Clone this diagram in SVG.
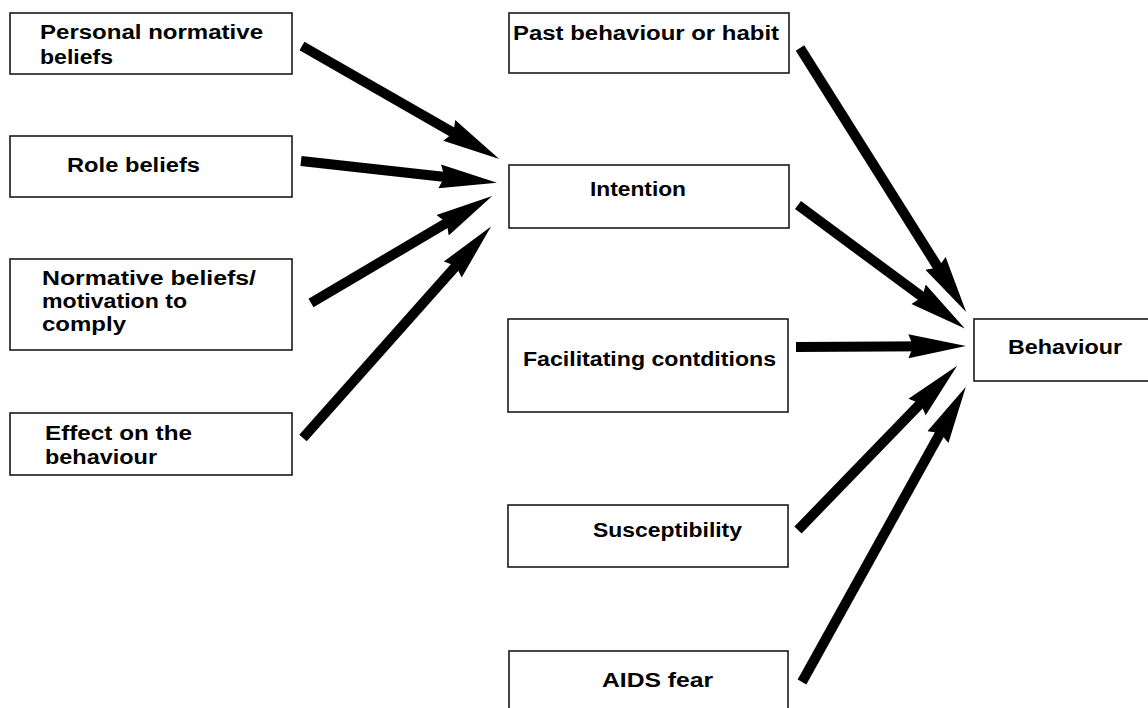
<svg xmlns="http://www.w3.org/2000/svg" width="1148" height="708" viewBox="0 0 1148 708">
<style>
.box{fill:#fff;stroke:#1a1a1a;stroke-width:1.6}
.t{font-family:"Liberation Sans",Arial,sans-serif;font-weight:bold;font-size:20px;fill:#000}
.arr{stroke:#000;stroke-width:10;fill:none;marker-end:url(#head)}
</style>
<defs>
<marker id="head" markerUnits="userSpaceOnUse" markerWidth="60" markerHeight="30" viewBox="0 -12 50 24" refX="18" refY="0" orient="auto">
<path d="M0,-10 L48,0 L0,10 L4,0 z" fill="#000"/>
</marker>
</defs>
<rect width="1148" height="708" fill="#fff"/>
<g id="connectors">
<path class="arr" d="M302,46 L468,141.1"/>
<path class="arr" d="M301,161 L461.2,178.7"/>
<path class="arr" d="M311,303 L461.2,214.3"/>
<path class="arr" d="M303,438 L467.1,253.4"/>
<path class="arr" d="M800,48 L947,281.6"/>
<path class="arr" d="M798,205 L935.9,307.1"/>
<path class="arr" d="M796,347 L930,346.2"/>
<path class="arr" d="M798,530 L932.1,391.5"/>
<path class="arr" d="M802,682 L948.4,418.2"/>
</g>
<g id="n-personal"><rect class="box" x="10" y="13" width="282" height="61"/><text class="t" x="40" y="39" textLength="223" lengthAdjust="spacingAndGlyphs">Personal normative</text><text class="t" x="40" y="64" textLength="73" lengthAdjust="spacingAndGlyphs">beliefs</text></g>
<g id="n-role"><rect class="box" x="10" y="136" width="282" height="61"/><text class="t" x="67" y="172" textLength="133" lengthAdjust="spacingAndGlyphs">Role beliefs</text></g>
<g id="n-normative"><rect class="box" x="10" y="259" width="282" height="91"/><text class="t" x="42" y="285" textLength="214" lengthAdjust="spacingAndGlyphs">Normative beliefs/</text><text class="t" x="42" y="308" textLength="145" lengthAdjust="spacingAndGlyphs">motivation to</text><text class="t" x="42" y="331" textLength="84" lengthAdjust="spacingAndGlyphs">comply</text></g>
<g id="n-effect"><rect class="box" x="10" y="413" width="282" height="62"/><text class="t" x="45" y="440" textLength="147" lengthAdjust="spacingAndGlyphs">Effect on the</text><text class="t" x="45" y="464" textLength="112" lengthAdjust="spacingAndGlyphs">behaviour</text></g>
<g id="n-past"><rect class="box" x="509" y="13" width="280" height="60"/><text class="t" x="513" y="40" textLength="266" lengthAdjust="spacingAndGlyphs">Past behaviour or habit</text></g>
<g id="n-intention"><rect class="box" x="509" y="165" width="280" height="63"/><text class="t" x="590" y="196" textLength="96" lengthAdjust="spacingAndGlyphs">Intention</text></g>
<g id="n-facilitating"><rect class="box" x="508" y="319" width="280" height="93"/><text class="t" x="523" y="366" textLength="253" lengthAdjust="spacingAndGlyphs">Facilitating contditions</text></g>
<g id="n-susceptibility"><rect class="box" x="508" y="505" width="280" height="62"/><text class="t" x="593" y="537" textLength="149" lengthAdjust="spacingAndGlyphs">Susceptibility</text></g>
<g id="n-aids"><rect class="box" x="509" y="651" width="279" height="62"/><text class="t" x="602" y="687" textLength="111" lengthAdjust="spacingAndGlyphs">AIDS fear</text></g>
<g id="n-behaviour"><rect class="box" x="974" y="319" width="180" height="62"/><text class="t" x="1008" y="354" textLength="114" lengthAdjust="spacingAndGlyphs">Behaviour</text></g>
</svg>
